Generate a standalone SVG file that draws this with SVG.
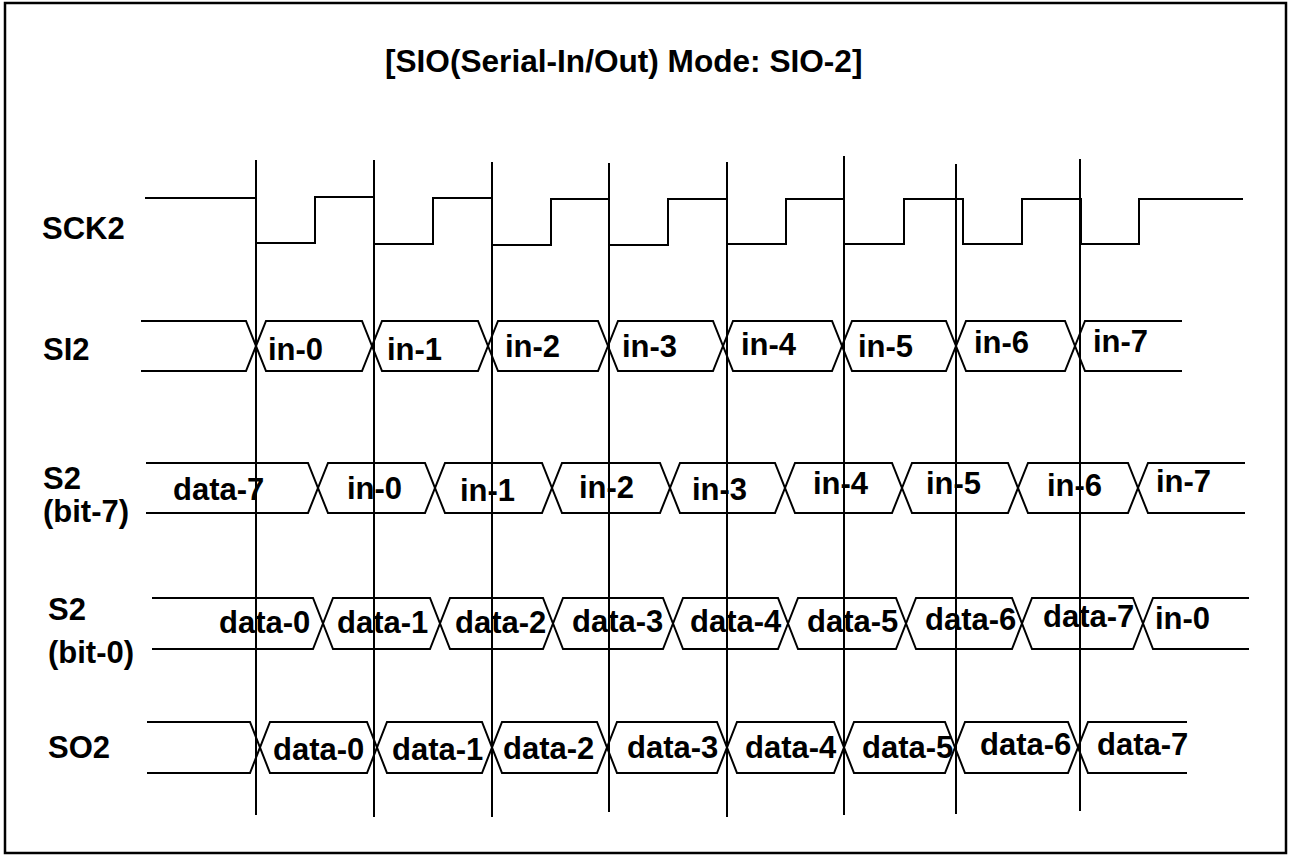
<svg xmlns="http://www.w3.org/2000/svg" width="1291" height="856" viewBox="0 0 1291 856">
<style>
.w{fill:none;stroke:#000;stroke-width:2;stroke-linejoin:miter}
.t{font-family:"Liberation Sans",Arial,sans-serif;font-weight:bold;font-size:31px;fill:#000}
.title{font-size:31.6px}
</style>
<rect x="0" y="0" width="1291" height="856" fill="#fff"/>
<rect x="5" y="3" width="1281" height="850" fill="none" stroke="#000" stroke-width="2.5"/>
<text class="t title" x="385" y="72">[SIO(Serial-In/Out) Mode: SIO-2]</text>

<g id="labels">
<text class="t" x="42" y="239">SCK2</text>
<text class="t" x="43" y="360">SI2</text>
<text class="t" x="43" y="489">S2</text>
<text class="t" x="43" y="522">(bit-7)</text>
<text class="t" x="48" y="620">S2</text>
<text class="t" x="48" y="663">(bit-0)</text>
<text class="t" x="48" y="758">SO2</text>
</g>

<g id="sck2">
<path class="w" d="M145,198 H256 V243 H315 V197 H374 V244 H433 V198 H492 V245 H551 V199 H609 V245 H668 V199 H727 V244 H786 V199 H844 V244 H904 V199 H963 V244 H1022 V199 H1081 V244 H1139 V199 H1243"/>
</g>

<g id="si2">
<path class="w" d="M141,321 H246 L266,371 H362 L382,321 H478 L498,371 H598 L618,321 H713 L733,371 H832 L852,321 H946 L966,371 H1065 L1085,321 H1182"/>
<path class="w" d="M141,371 H246 L266,321 H362 L382,371 H478 L498,321 H598 L618,371 H713 L733,321 H832 L852,371 H946 L966,321 H1065 L1085,371 H1182"/>
<text class="t" x="268" y="360">in-0</text>
<text class="t" x="387" y="360">in-1</text>
<text class="t" x="505" y="357">in-2</text>
<text class="t" x="622" y="357">in-3</text>
<text class="t" x="741" y="355">in-4</text>
<text class="t" x="858" y="357">in-5</text>
<text class="t" x="974" y="353">in-6</text>
<text class="t" x="1093" y="352">in-7</text>
</g>

<g id="s2-bit7">
<path class="w" d="M146,463 H308 L328,513 H425 L445,463 H542 L562,513 H660 L680,463 H775 L795,513 H892 L912,463 H1008 L1028,513 H1128 L1148,463 H1245"/>
<path class="w" d="M146,513 H308 L328,463 H425 L445,513 H542 L562,463 H660 L680,513 H775 L795,463 H892 L912,513 H1008 L1028,463 H1128 L1148,513 H1245"/>
<text class="t" x="173" y="500">data-7</text>
<text class="t" x="347" y="499">in-0</text>
<text class="t" x="460" y="501">in-1</text>
<text class="t" x="579" y="498">in-2</text>
<text class="t" x="692" y="500">in-3</text>
<text class="t" x="813" y="494">in-4</text>
<text class="t" x="926" y="494">in-5</text>
<text class="t" x="1047" y="496">in-6</text>
<text class="t" x="1156" y="492">in-7</text>
</g>

<g id="s2-bit0">
<path class="w" d="M152,598 H313 L333,649 H430 L450,598 H543 L563,649 H663 L683,598 H778 L798,649 H896 L916,598 H1012 L1032,649 H1133 L1153,598 H1249"/>
<path class="w" d="M152,649 H313 L333,598 H430 L450,649 H543 L563,598 H663 L683,649 H778 L798,598 H896 L916,649 H1012 L1032,598 H1133 L1153,649 H1249"/>
<text class="t" x="219" y="633">data-0</text>
<text class="t" x="337" y="633">data-1</text>
<text class="t" x="455" y="633">data-2</text>
<text class="t" x="572" y="632">data-3</text>
<text class="t" x="690" y="632">data-4</text>
<text class="t" x="807" y="632">data-5</text>
<text class="t" x="925" y="630">data-6</text>
<text class="t" x="1043" y="627">data-7</text>
<text class="t" x="1155" y="629">in-0</text>
</g>

<g id="so2">
<path class="w" d="M147,722 H250 L270,773 H367 L387,722 H482 L502,773 H597 L617,722 H717 L737,773 H834 L854,722 H945 L965,773 H1068 L1088,722 H1187"/>
<path class="w" d="M147,773 H250 L270,722 H367 L387,773 H482 L502,722 H597 L617,773 H717 L737,722 H834 L854,773 H945 L965,722 H1068 L1088,773 H1187"/>
<text class="t" x="273" y="760">data-0</text>
<text class="t" x="392" y="760">data-1</text>
<text class="t" x="503" y="759">data-2</text>
<text class="t" x="627" y="758">data-3</text>
<text class="t" x="745" y="758">data-4</text>
<text class="t" x="862" y="758">data-5</text>
<text class="t" x="980" y="755">data-6</text>
<text class="t" x="1097" y="755">data-7</text>
</g>

<g id="connectors">
<line class="w" x1="256" y1="160" x2="256" y2="815"/>
<line class="w" x1="374" y1="160" x2="374" y2="817"/>
<line class="w" x1="492" y1="162" x2="492" y2="817"/>
<line class="w" x1="609" y1="163" x2="609" y2="812"/>
<line class="w" x1="727" y1="162" x2="727" y2="817"/>
<line class="w" x1="844" y1="156" x2="844" y2="815"/>
<line class="w" x1="956" y1="164" x2="956" y2="814"/>
<line class="w" x1="1080" y1="159" x2="1080" y2="811"/>
</g>
</svg>
